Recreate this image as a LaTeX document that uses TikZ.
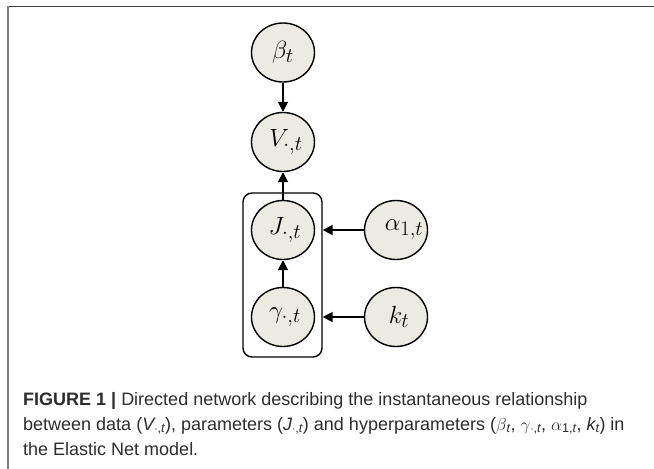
\documentclass[tikz,border=0pt]{standalone}
\usepackage{fontspec}
\newfontfamily\capfont{Liberation Sans}
\usetikzlibrary{arrows.meta,shapes.geometric}

\definecolor{nodefill}{RGB}{237,235,225}
\definecolor{captext}{RGB}{45,45,45}
\definecolor{frametop}{RGB}{64,64,64}
\definecolor{frameleft}{RGB}{128,128,128}

% label set off to the right inside its node without changing the node size
\newcommand\offlabel[2]{\makebox[0pt][c]{\hspace*{#1}#2}}
% italic subscripts in the caption
\newcommand\capsub[1]{\textsubscript{#1}}

\tikzset{
  var/.style={ellipse, draw=black, line width=1.4pt, fill=nodefill,
    minimum width=63pt, minimum height=59pt, inner sep=0pt,
    font=\fontsize{24.88}{28}\selectfont},
  link/.style={-{Triangle[length=10pt,width=10pt]}, line width=1.8pt},
  plate/.style={draw=black, line width=1.4pt, rounded corners=9pt},
  capline/.style={anchor=base west, inner sep=0pt, text=captext,
    font=\capfont\fontsize{18}{25}\selectfont},
}

\begin{document}
\begin{tikzpicture}[x=1pt,y=-1pt]
  \useasboundingbox (0,0) rectangle (654,469);

  % caption frame (open on the right and at the bottom)
  \draw[frametop, line width=1.4pt] (6.5,6.5) -- (654,6.5);
  \draw[frameleft, line width=2pt] (7.5,6) -- (7.5,469);

  % plate around the parameter nodes
  \node[plate, minimum width=79pt, minimum height=164pt] (plt) at (282.5,275) {};

  % variables
  \node[var] (b) at (283,52.5) {$\beta_t$};
  \node[var] (v) at (283,142)  {\offlabel{6pt}{$V_{\cdot,t}$}};
  \node[var] (j) at (283,230)  {\offlabel{4pt}{$J_{\cdot,t}$}};
  \node[var] (g) at (283,317)  {\offlabel{4pt}{$\gamma_{\cdot,t}$}};
  \node[var] (a) at (396,230)  {\offlabel{16pt}{$\alpha_{1,t}$}};
  \node[var] (k) at (396,317)  {\offlabel{6pt}{$k_t$}};

  % dependencies
  \draw[link] (b) -- (v);
  \draw[link] (j) -- (v);
  \draw[link] (g) -- (j);
  \draw[link] (a) -- (a -| plt.east);
  \draw[link] (k) -- (k -| plt.east);

  % caption
  \node[capline] (cap1) at (23,405)
    {\textbf{FIGURE 1 |} Directed network describing the instantaneous relationship};
  \node[capline] (cap2) at (23,430)
    {between data ({\itshape V}\capsub{$\cdot$,\itshape t}), parameters ({\itshape J}\capsub{$\cdot$,\itshape t}) and hyperparameters ($\beta$\capsub{\itshape t}, $\gamma$\capsub{$\cdot$,\itshape t}, $\alpha$\capsub{1,\itshape t}, {\itshape k}\capsub{\itshape t}) in};
  \node[capline] (cap3) at (23,455)
    {the Elastic Net model.};
\end{tikzpicture}
\end{document}
